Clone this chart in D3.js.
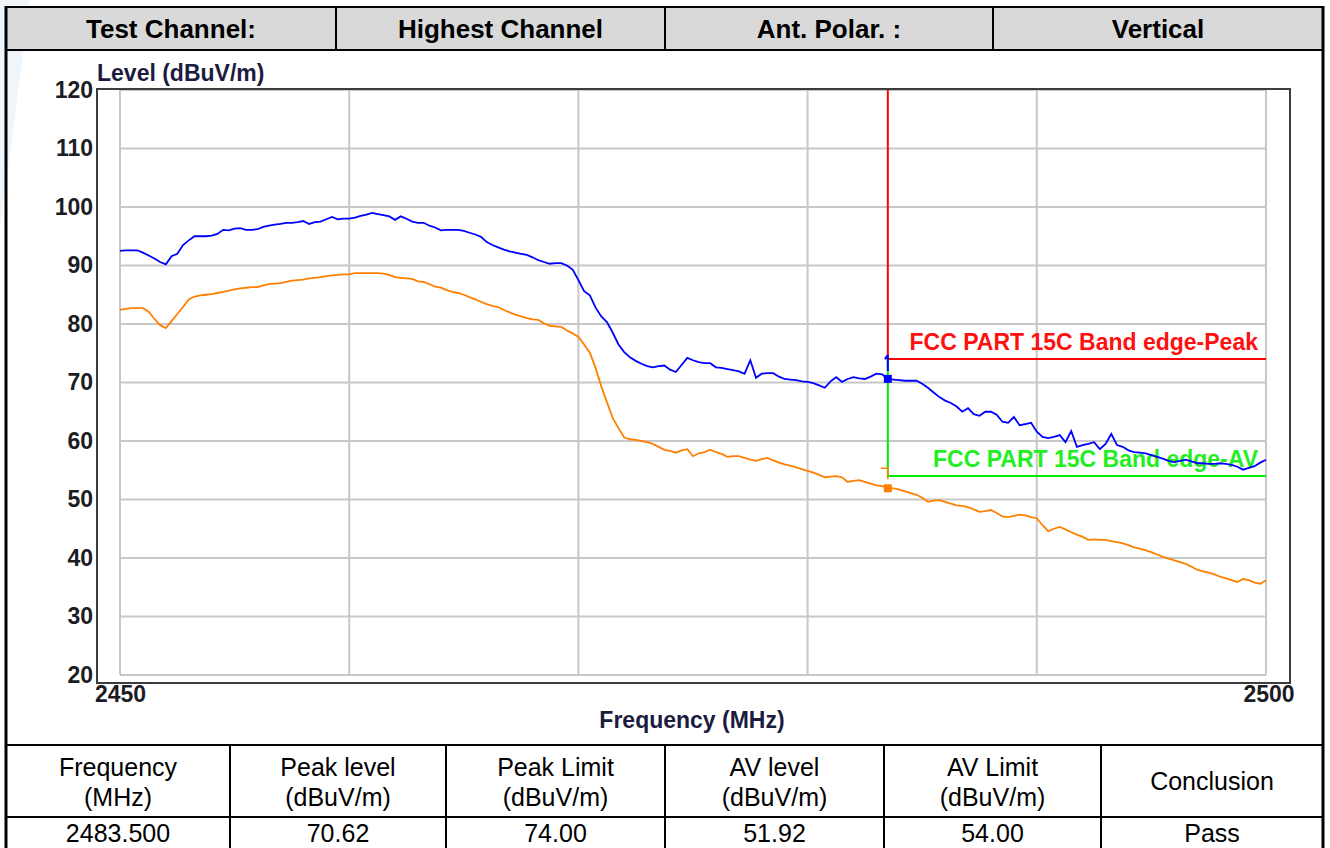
<!DOCTYPE html>
<html>
<head>
<meta charset="utf-8">
<script src="https://cdn.jsdelivr.net/npm/d3@7"></script>
<style>
  html, body { margin: 0; padding: 0; background: #fff; }
  svg { display: block; font-family: "Liberation Sans", Arial, sans-serif; }
</style>
</head>
<body>
<div id="chart"></div>
<script>
// header / result table text
const headerCells = ["Test Channel:", "Highest Channel", "Ant. Polar. :", "Vertical"];
const resultHeads = [["Frequency", "(MHz)"], ["Peak level", "(dBuV/m)"], ["Peak Limit", "(dBuV/m)"],
  ["AV level", "(dBuV/m)"], ["AV Limit", "(dBuV/m)"], ["Conclusion"]];
const resultRow = ["2483.500", "70.62", "74.00", "51.92", "54.00", "Pass"];

// axes
const yTicks = [20, 30, 40, 50, 60, 70, 80, 90, 100, 110, 120];
const xGrid = [2450, 2460, 2470, 2480, 2490, 2500];
const xLabels = [2450, 2500];

// limits and markers
const bandEdge = 2483.5;
const peakLimit = 74;
const avLimit = 54;
const peakMarker = 70.62;
const avMarker = 51.92;

// sweep 2450..2500 MHz, one reading every 0.25 MHz
const sweepStart = 2450, sweepStep = 0.25;

// peak trace (dBuV/m)
const peakLevel = [
  92.5, 92.6, 92.6, 92.6, 92.2, 91.7, 91.2, 90.6, 90.2, 91.6, 92.0, 93.5, 94.3, 95.0, 95.0, 95.0, 95.1, 95.4, 96.1, 96.0,
  96.3, 96.4, 96.1, 96.1, 96.2, 96.6, 96.8, 97.0, 97.1, 97.3, 97.3, 97.4, 97.6, 97.1, 97.4, 97.5, 97.9, 98.3, 97.9, 98.0,
  98.0, 98.2, 98.5, 98.7, 99.0, 98.8, 98.6, 98.4, 97.8, 98.4, 98.0, 97.5, 97.3, 97.3, 96.8, 96.5, 96.0, 96.1, 96.1, 96.1,
  95.9, 95.6, 95.3, 94.9, 94.0, 93.5, 93.1, 92.7, 92.4, 92.2, 92.0, 91.8, 91.4, 90.9, 90.6, 90.3, 90.4, 90.4, 90.0, 89.3,
  87.5, 85.6, 84.9, 82.8, 81.3, 80.3, 78.5, 76.5, 75.2, 74.3, 73.7, 73.2, 72.8, 72.6, 72.8, 72.9, 72.2, 71.8, 73.0, 74.2,
  73.8, 73.5, 73.3, 73.3, 72.6, 72.5, 72.3, 72.1, 71.9, 71.5, 73.8, 70.8, 71.5, 71.6, 71.6, 71.0, 70.6, 70.5, 70.4, 70.2,
  70.1, 69.9, 69.5, 69.1, 70.2, 70.9, 70.1, 70.6, 70.9, 70.7, 70.6, 71.0, 71.5, 71.4, 70.6, 70.5, 70.4, 70.3, 70.3, 70.3,
  69.8, 69.1, 68.3, 67.5, 66.9, 66.5, 65.9, 65.0, 65.6, 64.6, 64.3, 65.0, 65.0, 64.5, 63.3, 63.1, 64.1, 62.7, 62.9, 63.1,
  61.6, 60.7, 60.5, 60.7, 61.0, 59.8, 61.7, 59.0, 59.3, 59.5, 59.8, 58.6, 59.5, 61.2, 59.3, 59.0, 58.4, 58.1, 58.0, 57.9,
  57.6, 57.3, 57.0, 56.6, 56.4, 56.6, 56.8, 56.5, 56.2, 56.2, 56.1, 56.1, 56.2, 56.1, 55.9, 55.6, 55.1, 55.4, 55.7, 56.3,
  56.8
];

// average trace (dBuV/m)
const avLevel = [
  82.4, 82.6, 82.7, 82.7, 82.7, 82.1, 80.9, 79.8, 79.3, 80.5, 81.7, 82.9, 84.2, 84.7, 84.9, 85.0, 85.1, 85.3, 85.5, 85.7,
  85.9, 86.1, 86.2, 86.3, 86.3, 86.6, 86.8, 86.9, 87.0, 87.2, 87.4, 87.5, 87.6, 87.8, 87.9, 88.0, 88.2, 88.3, 88.4, 88.5,
  88.5, 88.7, 88.7, 88.7, 88.7, 88.7, 88.6, 88.4, 88.0, 87.9, 87.8, 87.7, 87.3, 87.2, 86.8, 86.4, 86.2, 85.8, 85.5, 85.3,
  85.0, 84.6, 84.2, 83.8, 83.4, 83.1, 82.9, 82.4, 82.0, 81.6, 81.3, 81.0, 80.8, 80.7, 80.1, 79.7, 79.6, 79.5, 78.9, 78.4,
  77.8, 76.5, 75.1, 72.5, 69.3, 66.6, 63.9, 62.2, 60.6, 60.3, 60.2, 60.0, 59.8, 59.5, 59.0, 58.5, 58.3, 58.0, 58.4, 58.6,
  57.4, 57.9, 58.1, 58.5, 58.1, 57.8, 57.3, 57.4, 57.4, 57.1, 56.8, 56.6, 56.9, 57.1, 56.7, 56.3, 56.0, 55.8, 55.5, 55.2,
  54.9, 54.6, 54.2, 53.8, 53.9, 54.0, 53.8, 53.0, 53.2, 53.3, 53.0, 52.7, 52.4, 52.3, 52.0, 51.9, 51.7, 51.4, 51.1, 50.8,
  50.3, 49.6, 49.8, 49.9, 49.6, 49.3, 49.0, 48.9, 48.7, 48.3, 47.9, 48.0, 48.2, 47.7, 47.1, 47.0, 47.2, 47.4, 47.3, 47.0,
  46.8, 45.6, 44.6, 45.0, 45.3, 44.9, 44.4, 44.0, 43.6, 43.1, 43.2, 43.1, 43.1, 42.9, 42.7, 42.5, 42.2, 41.8, 41.6, 41.3,
  41.0, 40.6, 40.2, 39.9, 39.6, 39.3, 39.0, 38.5, 38.0, 37.7, 37.5, 37.2, 36.8, 36.5, 36.2, 35.9, 36.4, 36.2, 35.8, 35.6,
  36.2
];

const W = 1330, H = 848;
const x = d3.scaleLinear().domain([2450, 2500]).range([120, 1266]);
const y = d3.scaleLinear().domain([20, 120]).range([675, 90]);

const svg = d3.select("#chart").append("svg").attr("width", W).attr("height", H);

// faint watermark at the left edge
svg.append("path").attr("d", "M0,0 L30,0 L0,230 Z").attr("fill", "#eef6fc");

// ---- header row
const headX = [6, 336, 665, 993, 1323];
svg.append("rect").attr("x", 6).attr("y", 7).attr("width", 1317).attr("height", 43)
  .attr("fill", "#d9d9d9");
svg.selectAll(".htxt").data(headerCells).enter().append("text")
  .attr("x", (d, i) => (headX[i] + headX[i + 1]) / 2)
  .attr("y", 29).attr("dy", "0.35em")
  .attr("text-anchor", "middle").attr("font-weight", "bold").attr("font-size", 26)
  .attr("fill", "#000").text(d => d);

// ---- plot
const frame = svg.append("g");
frame.selectAll(".vg").data(xGrid).enter().append("line")
  .attr("x1", d => x(d)).attr("x2", d => x(d)).attr("y1", y(120)).attr("y2", y(20))
  .attr("stroke", "#c8c8c8").attr("stroke-width", 2);
frame.selectAll(".hg").data(yTicks).enter().append("line")
  .attr("x1", x(2450)).attr("x2", x(2500)).attr("y1", d => y(d)).attr("y2", d => y(d))
  .attr("stroke", "#c8c8c8").attr("stroke-width", 2);
frame.append("rect").attr("x", 97).attr("y", 89).attr("width", 1193).attr("height", 594)
  .attr("fill", "none").attr("stroke", "#3c3c3c").attr("stroke-width", 2);

// y labels
const yAxis = svg.append("g").attr("transform", "translate(95,0)")
  .call(d3.axisLeft(y).tickValues(yTicks).tickSize(0).tickPadding(2));
yAxis.select(".domain").remove();
yAxis.selectAll("text").attr("font-size", 23).attr("font-weight", "bold")
  .attr("fill", "#1c1c24").attr("font-family", "Liberation Sans, Arial, sans-serif");

// x labels
const xAxis = svg.append("g").attr("transform", "translate(0,685)")
  .call(d3.axisBottom(x).tickValues(xLabels).tickFormat(d3.format("d")).tickSize(0).tickPadding(1));
xAxis.select(".domain").remove();
xAxis.selectAll("text").attr("font-size", 23).attr("font-weight", "bold")
  .attr("fill", "#1c1c24").attr("font-family", "Liberation Sans, Arial, sans-serif");
xAxis.selectAll(".tick").filter(d => d === 2500).attr("transform", "translate(" + (x(2500) + 3) + ",0)");

svg.append("text").attr("x", 97).attr("y", 73).attr("dy", "0.35em")
  .attr("font-size", 23).attr("font-weight", "bold").attr("fill", "#1c1c40")
  .text("Level (dBuV/m)");
svg.append("text").attr("x", 692).attr("y", 720).attr("dy", "0.35em").attr("text-anchor", "middle")
  .attr("font-size", 23).attr("font-weight", "bold").attr("fill", "#1c1c40")
  .text("Frequency (MHz)");

// limit lines
const xe = x(bandEdge);
svg.append("path")
  .attr("d", `M${xe},${y(120)} L${xe},${y(peakLimit)} L${x(2500)},${y(peakLimit)}`)
  .attr("fill", "none").attr("stroke", "#ff0000").attr("stroke-width", 2);
svg.append("path")
  .attr("d", `M${xe},${y(peakLimit)} L${xe},${y(avLimit)} L${x(2500)},${y(avLimit)}`)
  .attr("fill", "none").attr("stroke", "#00ee00").attr("stroke-width", 2);
svg.append("text").attr("x", 1258).attr("y", y(peakLimit) - 17).attr("dy", "0.35em")
  .attr("text-anchor", "end").attr("font-size", 23).attr("font-weight", "bold")
  .attr("fill", "#ff1010").text("FCC PART 15C Band edge-Peak");
svg.append("text").attr("x", 1258).attr("y", y(avLimit) - 17).attr("dy", "0.35em")
  .attr("text-anchor", "end").attr("font-size", 23).attr("font-weight", "bold")
  .attr("fill", "#22ee22").text("FCC PART 15C Band edge-AV");

// traces
const freqs = peakLevel.map((v, i) => sweepStart + i * sweepStep);
const line = d3.line().x(d => x(d[0])).y(d => y(d[1]));
svg.append("path").datum(avLevel.map((v, i) => [freqs[i], v]))
  .attr("d", line).attr("fill", "none").attr("stroke", "#ff8000").attr("stroke-width", 1.8);
svg.append("path").datum(peakLevel.map((v, i) => [freqs[i], v]))
  .attr("d", line).attr("fill", "none").attr("stroke", "#0000ff").attr("stroke-width", 1.8);

// markers at the band edge
svg.append("path").attr("d", `M${xe},${y(peakLimit) - 4} L${xe},${y(peakLimit) + 12} M${xe - 3},${y(peakLimit)} L${xe},${y(peakLimit) - 4}`)
  .attr("stroke", "#0000ff").attr("stroke-width", 2).attr("fill", "none");
svg.append("path").attr("d", `M${xe},${y(55.5)} L${xe},${y(55.5) + 12} M${xe - 7},${y(55.5) + 1} L${xe},${y(55.5) + 1}`)
  .attr("stroke", "#ff8000").attr("stroke-width", 1.5).attr("fill", "none");
svg.append("rect").attr("x", xe - 4).attr("y", y(peakMarker) - 4).attr("width", 8).attr("height", 8)
  .attr("fill", "#0000ff");
svg.append("rect").attr("x", xe - 4).attr("y", y(avMarker) - 4).attr("width", 8).attr("height", 8)
  .attr("fill", "#ff8000");

// ---- result table
const colX = [6, 230, 446, 665, 884, 1101, 1323];
const cells = svg.append("g");
resultHeads.forEach((lines, i) => {
  const cx = (colX[i] + colX[i + 1]) / 2;
  const y0 = lines.length === 2 ? 767 : 781;
  lines.forEach((t, k) => {
    cells.append("text").attr("x", cx).attr("y", y0 + k * 30).attr("dy", "0.35em")
      .attr("text-anchor", "middle").attr("font-size", 25).attr("fill", "#000").text(t);
  });
});
cells.selectAll(".val").data(resultRow).enter().append("text")
  .attr("x", (d, i) => (colX[i] + colX[i + 1]) / 2).attr("y", 833).attr("dy", "0.35em")
  .attr("text-anchor", "middle").attr("font-size", 25).attr("fill", "#000").text(d => d);

// ---- borders
const bl = svg.append("g").attr("stroke", "#000").attr("fill", "none");
bl.append("line").attr("x1", 6).attr("x2", 1323).attr("y1", 7).attr("y2", 7).attr("stroke-width", 2);
bl.append("line").attr("x1", 6).attr("x2", 1323).attr("y1", 50).attr("y2", 50).attr("stroke-width", 2);
bl.append("line").attr("x1", 6).attr("x2", 1323).attr("y1", 745).attr("y2", 745).attr("stroke-width", 2);
bl.append("line").attr("x1", 6).attr("x2", 1323).attr("y1", 817).attr("y2", 817).attr("stroke-width", 2);
bl.append("line").attr("x1", 6).attr("x2", 6).attr("y1", 6).attr("y2", H).attr("stroke-width", 3);
bl.append("line").attr("x1", 1323).attr("x2", 1323).attr("y1", 6).attr("y2", H).attr("stroke-width", 3);
headX.slice(1, 4).forEach(v => {
  bl.append("line").attr("x1", v).attr("x2", v).attr("y1", 7).attr("y2", 50).attr("stroke-width", 2);
});
colX.slice(1, 6).forEach(v => {
  bl.append("line").attr("x1", v).attr("x2", v).attr("y1", 745).attr("y2", H).attr("stroke-width", 2);
});
</script>
</body>
</html>
